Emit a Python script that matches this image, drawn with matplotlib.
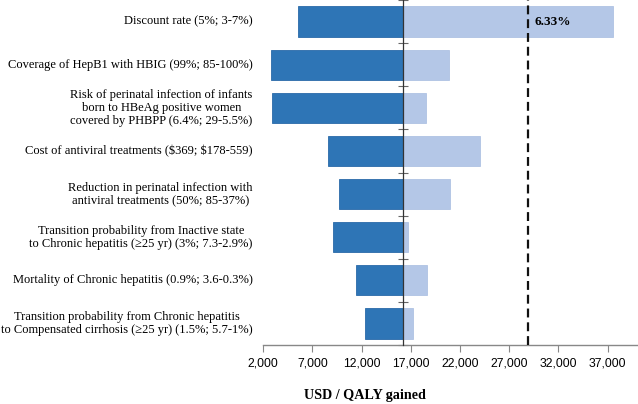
import matplotlib
matplotlib.use("Agg")
import matplotlib.pyplot as plt
import matplotlib.transforms as mtransforms
import numpy as np

categories = [
    "Discount rate (5%; 3-7%)",
    "Coverage of HepB1 with HBIG (99%; 85-100%)",
    "Risk of perinatal infection of infants\nborn to HBeAg positive women\ncovered by PHBPP (6.4%; 29-5.5%)",
    "Cost of antiviral treatments (\\$369; \\$178-559)",
    "Reduction in perinatal infection with\nantiviral treatments (50%; 85-37%)",
    "Transition probability from Inactive state\nto Chronic hepatitis (\u226525 yr) (3%; 7.3-2.9%)",
    "Mortality of Chronic hepatitis (0.9%; 3.6-0.3%)",
    "Transition probability from Chronic hepatitis\nto Compensated cirrhosis (\u226525 yr) (1.5%; 5.7-1%)",
]
low_values = [5500, 2800, 2900, 8600, 9700, 9100, 11400, 12300]
high_values = [37500, 20900, 18500, 24000, 21000, 16700, 18600, 17200]
base_value = 16150
threshold_value = 28900
threshold_label = "6.33%"
xticks = [2000, 7000, 12000, 17000, 22000, 27000, 32000, 37000]
xlabel = "USD / QALY gained"

serif = ["Liberation Serif", "DejaVu Serif"]

fig = plt.figure(figsize=(6.38, 4.04), dpi=100)
ax = fig.add_axes([0.4127, 0.146, 0.586, 0.854])

y = np.arange(len(categories))
low = np.array(low_values)
high = np.array(high_values)
ax.barh(y, low - base_value, left=base_value, height=0.7,
        color="#2E75B6", edgecolor="#2A6AA8", linewidth=0.6, zorder=2)
ax.barh(y, high - base_value, left=base_value, height=0.7,
        color="#B4C7E7", edgecolor="#AFC2E3", linewidth=0.6, zorder=2)

ax.set_ylim(len(categories) - 0.5, -0.5)
ax.set_xlim(2000, 40000)

ax.axvline(threshold_value, color="#111111", lw=1.6, ls=(0, (4, 2.2)), zorder=3)
ax.text(threshold_value + 700, 0, threshold_label, fontfamily=serif,
        fontweight="bold", fontsize=9.5, va="center", ha="left", zorder=4)

for spine in ["top", "right"]:
    ax.spines[spine].set_visible(False)
ax.spines["left"].set_position(("data", base_value))
ax.spines["left"].set_color("#333333")
ax.spines["left"].set_linewidth(0.9)
ax.spines["left"].set_zorder(5)
ax.spines["bottom"].set_color("#888888")
ax.spines["bottom"].set_linewidth(1.0)

ax.set_yticks(np.arange(-0.5, len(categories), 1.0))
ax.set_yticklabels([])
ax.tick_params(axis="y", direction="inout", length=7, width=0.8, color="#666666")

ax.set_xticks(xticks)
ax.set_xticklabels([f"{v:,}" for v in xticks], fontfamily=["Liberation Sans", "DejaVu Sans"], fontsize=8.8)
ax.tick_params(axis="x", direction="out", length=5, width=0.8, color="#888888", pad=4)

ax.set_xlabel(xlabel, fontfamily=serif, fontweight="bold", fontsize=10.2)
ax.xaxis.set_label_coords(0.271, -0.145)
ax.xaxis.label.set_va("center")

trans = mtransforms.blended_transform_factory(ax.transAxes, ax.transData)
for yi, label in zip(y, categories):
    ax.text(-0.029, yi, label, transform=trans,
            ha="right", va="center", multialignment="center", fontfamily=serif,
            fontsize=9, linespacing=1.1)

fig.savefig("out.png", dpi=100)
